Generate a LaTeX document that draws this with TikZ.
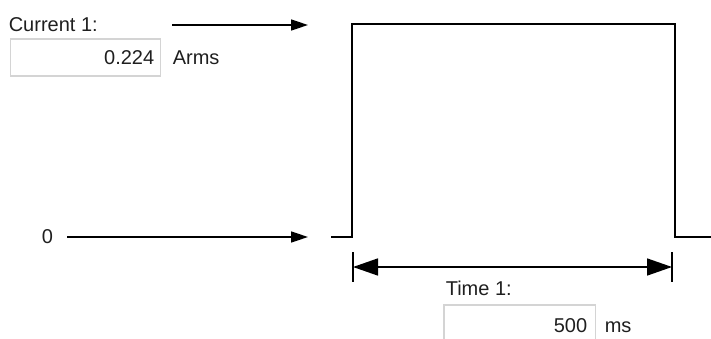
\documentclass[tikz,border=0pt]{standalone}
\usepackage{fontspec}
\setmainfont{Liberation Sans}
\usetikzlibrary{arrows.meta}
\begin{document}
\begin{tikzpicture}[x=1pt,y=-1pt,line width=1.6pt,
  lbl/.style={inner sep=0pt,font=\fontsize{20}{24}\selectfont,text=black!88},
  fieldline/.style={draw=black!17,line width=1.2pt},
  fieldbox/.style={fieldline,minimum width=150pt,minimum height=37pt,inner sep=0pt},
  pointer/.style={-{Triangle[length=17pt,width=11pt]}},
  dimarrow/.style={{Triangle[length=25pt,width=17pt]}-{Triangle[length=25pt,width=17pt]}}]
\useasboundingbox (0,0) rectangle (711,339);

% labels and fields
\node[lbl,anchor=base west] (cur) at (8,32) {Current 1:};
\node[fieldbox,anchor=north west] (f1) at (10,38.5) {};
\node[lbl,anchor=base east] (v1) at (155,65) {0.224};
\node[lbl,anchor=base west] (u1) at (172,65) {Arms};
\node[lbl,anchor=base west] (zero) at (41,243) {0};

\node[lbl,anchor=base west] (tim) at (445,295) {Time 1:};
\node[anchor=north west,minimum width=150pt,minimum height=34pt,inner sep=0pt] (f2) at (444,305) {};
\draw[fieldline] (f2.south west) |- (f2.north east) -- (f2.south east);
\node[lbl,anchor=base east] (v2) at (588,332) {500};
\node[lbl,anchor=base west] (u2) at (604,332) {ms};

% pointer arrows
\coordinate (ptop0) at (172,25);
\coordinate (ptop1) at (308,25);
\coordinate (pz0) at (67,237);
\coordinate (pz1) at (308,237);
\draw[pointer] (ptop0) -- (ptop1);
\draw[pointer] (pz0) -- (pz1);

% pulse
\coordinate (b0) at (331,237);
\coordinate (rise) at (352,237);
\coordinate (fall) at (675,237);
\coordinate (b1) at (711,237);
\draw (b0) -- (rise) -- (352,24) -- (675,24) -- (fall) -- (b1);

% dimension
\coordinate (dl) at (353,267);
\coordinate (dr) at (672,267);
\draw (353,252) -- (353,282);
\draw (672,252) -- (672,282);
\draw[dimarrow] (dl) -- (dr);
\end{tikzpicture}
\end{document}
